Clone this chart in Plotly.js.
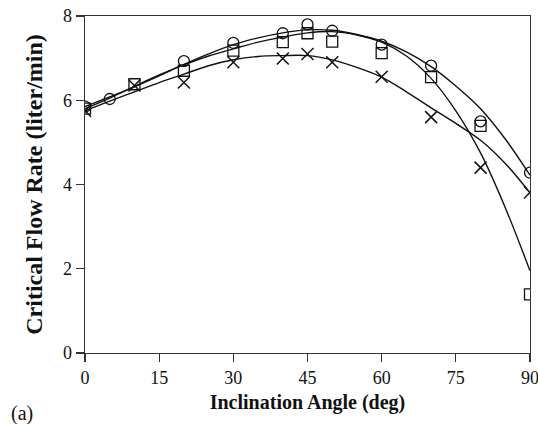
<!DOCTYPE html>
<html>
<head>
<meta charset="utf-8">
<script src="https://cdn.plot.ly/plotly-3.0.1.min.js"></script>
<style>html,body{margin:0;padding:0;background:#fff;}#chart{width:538px;height:424px;}</style>
</head>
<body>
<div id="chart"></div>
<script>
// Measured points
const circleAngles = [0, 5, 20, 30, 40, 45, 50, 60, 70, 80, 90];
const circleRates  = [5.85, 6.03, 6.93, 7.36, 7.59, 7.8, 7.65, 7.32, 6.82, 5.5, 4.28];
const squareAngles = [0, 10, 20, 30, 40, 45, 50, 60, 70, 80, 90];
const squareRates  = [5.8, 6.38, 6.7, 7.18, 7.38, 7.59, 7.39, 7.12, 6.55, 5.39, 1.39];
const crossAngles  = [0, 10, 20, 30, 40, 45, 50, 60, 70, 80, 90];
const crossRates   = [5.75, 6.35, 6.42, 6.9, 6.99, 7.1, 6.9, 6.56, 5.6, 4.4, 3.81];

// Trend curves
const curveAngles = [0, 5, 10, 15, 20, 25, 30, 35, 40, 45, 50, 55, 60, 65, 70, 75, 80, 85, 90];
const circleCurve = [5.85, 6.08, 6.32, 6.58, 6.85, 7.1, 7.32, 7.48, 7.6, 7.67, 7.66, 7.56, 7.4, 7.15, 6.8, 6.34, 5.8, 5.08, 4.22];
const squareCurve = [5.8, 6.05, 6.33, 6.6, 6.84, 7.05, 7.22, 7.38, 7.5, 7.6, 7.63, 7.55, 7.38, 7.05, 6.52, 5.75, 4.75, 3.45, 1.95];
const crossCurve  = [5.75, 5.98, 6.2, 6.42, 6.62, 6.82, 6.96, 7.04, 7.06, 7.06, 6.96, 6.78, 6.55, 6.2, 5.82, 5.45, 5.05, 4.5, 3.8];

const xTicks = [0, 15, 30, 45, 60, 75, 90];
const yTicks = [0, 2, 4, 6, 8];

const FONT = "Liberation Serif, Times New Roman, serif";
const lineStyle = {color: "#111", width: 1.4, shape: "spline", smoothing: 1};

const traces = [
  {x: curveAngles, y: circleCurve, mode: "lines", line: lineStyle, hoverinfo: "skip"},
  {x: curveAngles, y: squareCurve, mode: "lines", line: lineStyle, hoverinfo: "skip"},
  {x: curveAngles, y: crossCurve,  mode: "lines", line: lineStyle, hoverinfo: "skip"},
  {x: circleAngles, y: circleRates, mode: "markers",
   marker: {symbol: "circle-open", size: 11, color: "#111", line: {width: 1.3, color: "#111"}}},
  {x: squareAngles, y: squareRates, mode: "markers",
   marker: {symbol: "square-open", size: 11, color: "#111", line: {width: 1.3, color: "#111"}}},
  {x: crossAngles, y: crossRates, mode: "markers",
   marker: {symbol: "x-thin-open", size: 12, color: "#111", line: {width: 1.5, color: "#111"}}}
];

const layout = {
  width: 538, height: 424,
  margin: {l: 85, r: 8, t: 16, b: 71},
  paper_bgcolor: "#fff", plot_bgcolor: "#fff",
  showlegend: false,
  font: {family: FONT, color: "#111", size: 18},
  xaxis: {
    range: [0, 90], tickvals: xTicks, ticktext: xTicks.map(String),
    ticks: "outside", ticklen: 8, tickwidth: 1.2, tickcolor: "#333",
    showline: true, linecolor: "#333", linewidth: 1.4, mirror: true,
    showgrid: false, zeroline: false, ticklabeloverflow: "allow",
    tickfont: {family: FONT, size: 18, color: "#111"},
    title: {text: "<b>Inclination Angle (deg)</b>", font: {family: FONT, size: 20, color: "#111"}, standoff: 8}
  },
  yaxis: {
    range: [0, 8], tickvals: yTicks, ticktext: yTicks.map(String),
    ticks: "outside", ticklen: 8, tickwidth: 1.2, tickcolor: "#333",
    showline: true, linecolor: "#333", linewidth: 1.4, mirror: true,
    showgrid: false, zeroline: false,
    tickfont: {family: FONT, size: 18, color: "#111"},
    title: {text: "<b>Critical Flow Rate (liter/min)</b>", font: {family: FONT, size: 24, color: "#111"}, standoff: 13}
  },
  annotations: [
    {text: "(a)", xref: "paper", yref: "paper", x: -0.17, y: -0.18, xanchor: "left", yanchor: "middle",
     showarrow: false, font: {family: FONT, size: 20, color: "#111"}}
  ]
};

Plotly.newPlot("chart", traces, layout, {staticPlot: true, displayModeBar: false});
</script>
</body>
</html>
